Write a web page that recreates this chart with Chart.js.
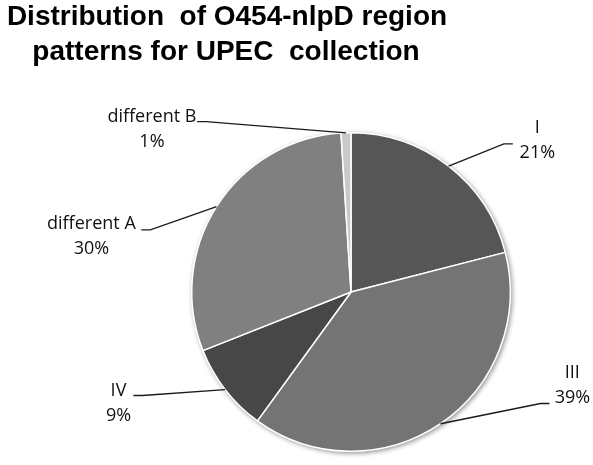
<!DOCTYPE html>
<html>
<head>
<meta charset="utf-8">
<script src="https://cdn.jsdelivr.net/npm/chart.js@4.4.0/dist/chart.umd.min.js"></script>
<style>
  html, body { margin: 0; padding: 0; background: #fff; }
  #wrap { width: 593px; height: 465px; }
</style>
</head>
<body>
<div id="wrap"><canvas id="chart" width="593" height="465"></canvas></div>
<script>
// data
const titleLines = ['Distribution  of O454-nlpD region', 'patterns for UPEC  collection'];
const categories = ['I', 'III', 'IV', 'different A', 'different B'];
const shares = [21, 39, 9, 30, 1];

const sliceColors = ['#565656', '#747474', '#474747', '#808080', '#c9c9c9'];

// label placement in pie radii from the centre (first text line, leader elbow), and side of the text
const labelAt = [[1.17, -1.03], [1.39, 0.51], [-1.46, 0.62], [-1.63, -0.43], [-1.25, -1.10]];
const elbowAt = [[0.96, -0.93], [1.19, 0.70], [-1.31, 0.65], [-1.26, -0.39], [-0.91, -1.07]];
const elbowSide = [1, 1, -1, -1, -1];

const titlePlugin = {
  id: 'pageTitle',
  afterDraw(chart) {
    const ctx = chart.ctx;
    ctx.save();
    ctx.font = 'bold 28px "Liberation Sans", Arial, sans-serif';
    ctx.fillStyle = '#000';
    ctx.textAlign = 'center';
    ctx.textBaseline = 'alphabetic';
    ctx.fillText(titleLines[0], 227, 25);
    ctx.fillText(titleLines[1], 226, 60);
    ctx.restore();
  }
};

const shadowPlugin = {
  id: 'pieShadow',
  beforeDatasetsDraw(chart) {
    const arc = chart.getDatasetMeta(0).data[0];
    if (!arc) return;
    const ctx = chart.ctx;
    ctx.save();
    ctx.shadowColor = 'rgba(0,0,0,0.45)';
    ctx.shadowBlur = 5;
    ctx.shadowOffsetX = 1.5;
    ctx.shadowOffsetY = 1.5;
    ctx.fillStyle = '#e8e8e8';
    ctx.beginPath();
    ctx.arc(arc.x, arc.y, arc.outerRadius + 0.5, 0, Math.PI * 2);
    ctx.fill();
    ctx.restore();
  }
};

const labelPlugin = {
  id: 'leaderLabels',
  afterDatasetsDraw(chart) {
    const ctx = chart.ctx;
    const meta = chart.getDatasetMeta(0);
    const total = shares.reduce((a, b) => a + b, 0);
    meta.data.forEach((arc, i) => {
      const r = arc.outerRadius;
      const mid = (arc.startAngle + arc.endAngle) / 2;
      const sx = arc.x + Math.cos(mid) * r;
      const sy = arc.y + Math.sin(mid) * r;
      const ex = arc.x + elbowAt[i][0] * r;
      const ey = arc.y + elbowAt[i][1] * r;
      ctx.save();
      ctx.strokeStyle = '#1a1a1a';
      ctx.lineWidth = 1.4;
      ctx.beginPath();
      ctx.moveTo(sx, sy);
      ctx.lineTo(ex, ey);
      ctx.lineTo(ex + elbowSide[i] * 9, ey);
      ctx.stroke();

      const tx = arc.x + labelAt[i][0] * r;
      const ty = arc.y + labelAt[i][1] * r;
      ctx.font = '18px "Open Sans", "DejaVu Sans", sans-serif';
      ctx.fillStyle = '#111';
      ctx.textAlign = 'center';
      ctx.textBaseline = 'middle';
      ctx.fillText(categories[i], tx, ty);
      ctx.fillText(Math.round(shares[i] / total * 100) + '%', tx, ty + 25);
      ctx.restore();
    });
  }
};

new Chart(document.getElementById('chart'), {
  type: 'pie',
  data: {
    labels: categories,
    datasets: [{
      data: shares,
      backgroundColor: sliceColors,
      borderColor: '#ffffff',
      borderWidth: 1.5,
      offset: 0,
      hoverOffset: 0
    }]
  },
  options: {
    responsive: false,
    animation: false,
    layout: { padding: { top: 132, bottom: 13, left: 191, right: 82 } },
    plugins: {
      legend: { display: false },
      title: { display: false },
      tooltip: { enabled: false }
    }
  },
  plugins: [shadowPlugin, labelPlugin, titlePlugin]
});
</script>
</body>
</html>
